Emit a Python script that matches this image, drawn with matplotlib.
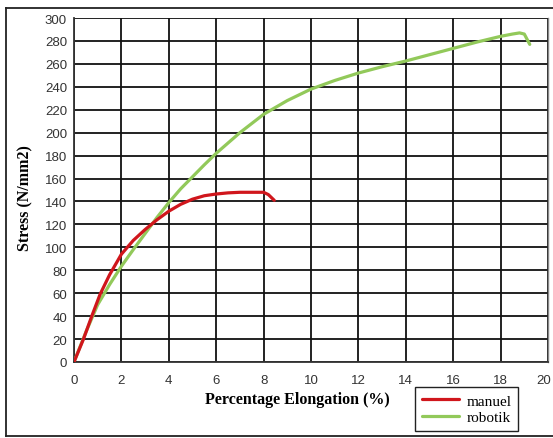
import matplotlib
matplotlib.use("Agg")
import matplotlib.pyplot as plt
from matplotlib.lines import Line2D
from matplotlib.transforms import offset_copy

# Tensile test curves: stress vs. percentage elongation
manuel_x = [0, 0.4, 0.75, 1.1, 1.5, 2.0, 2.5, 3.0, 3.5, 4.0, 4.5, 5.0, 5.5, 6.0, 6.5, 7.0, 7.5,
            8.0, 8.2, 8.45]
manuel_y = [0, 20, 40, 59, 76, 94, 106, 115.5, 124, 131.5, 137.5, 142, 145, 146.5, 147.5, 148,
            148, 148, 146, 141]

robotik_x = [0, 0.5, 1.0, 1.5, 2.0, 2.5, 3.0, 3.5, 4.0, 4.5, 5.0, 5.5, 6.0, 7.0, 8.0, 9.0, 10.0,
             11.0, 12.0, 13.0, 14.0, 15.0, 16.0, 17.0, 18.0, 18.5, 18.8, 19.0, 19.23]
robotik_y = [0, 26, 50, 67.5, 83.5, 98, 112, 126, 139, 151, 161.5, 172, 182, 200, 216, 228, 238,
             245.5, 252, 257.5, 262.5, 268, 273.5, 279, 284, 286, 287, 286, 277]

x_ticks = list(range(0, 21, 2))
y_ticks = list(range(0, 301, 20))

W, H = 553, 439
fig = plt.figure(figsize=(W / 100, H / 100), dpi=100)
ax = fig.add_axes([74 / W, 1 - 363 / H, (548 - 74) / W, (363 - 19) / H])

ax.plot(manuel_x, manuel_y, color="#d0161c", lw=2.3, label="manuel",
        solid_capstyle="round", solid_joinstyle="round", zorder=4)
ax.plot(robotik_x, robotik_y, color="#92c95a", lw=2.3, label="robotik",
        solid_capstyle="round", solid_joinstyle="round", zorder=3)

ax.set_xlim(0, 20)
ax.set_ylim(0, 300)
ax.set_xticks(x_ticks)
ax.set_yticks(y_ticks)
ax.grid(True, color="#111111", lw=1.3)
ax.set_axisbelow(True)
ax.tick_params(length=0, pad=9, labelsize=9.5, labelcolor="#333333")
ax.tick_params(axis="y", pad=5)
for lab in ax.get_xticklabels() + ax.get_yticklabels():
    lab.set_family("Liberation Sans")
# keep the last x label inside the figure edge
last = ax.get_xticklabels()[-1]
last.set_transform(offset_copy(last.get_transform(), fig=fig, x=-4, units="dots"))
for side in ("left", "bottom"):
    ax.spines[side].set_color("#333333")
    ax.spines[side].set_linewidth(1.3)
ax.spines["top"].set_visible(False)
ax.spines["right"].set_color("#888888")
ax.spines["right"].set_linewidth(1.0)

fig.text(297 / W, 1 - 400 / H, "Percentage Elongation (%)", ha="center", va="center",
         family="Liberation Serif", weight="bold", fontsize=11.5)
fig.text(25 / W, 1 - 198 / H, "Stress (N/mm2)", ha="center", va="center", rotation=90,
         family="Liberation Serif", weight="bold", fontsize=11.5)

leg = ax.legend(loc="upper left", bbox_to_anchor=(415 / W, 1 - 388 / H),
                bbox_transform=fig.transFigure, fancybox=False, framealpha=1,
                edgecolor="#222222", prop={"family": "Liberation Serif", "size": 11},
                handlelength=2.4, handletextpad=0.5, borderpad=0.45, labelspacing=0.2,
                borderaxespad=0)
leg.get_frame().set_linewidth(1.0)

# Outer frame around the whole figure
frame_kw = dict(transform=fig.transFigure, color="#222222", lw=1.3)
fig.add_artist(Line2D([6 / W, 1], [1 - 9 / H, 1 - 9 / H], **frame_kw))
fig.add_artist(Line2D([6 / W, 6 / W], [1 - 437 / H, 1 - 9 / H], **frame_kw))
fig.add_artist(Line2D([6 / W, 1], [1 - 437 / H, 1 - 437 / H], **frame_kw))

fig.savefig("out.png", dpi=100)
